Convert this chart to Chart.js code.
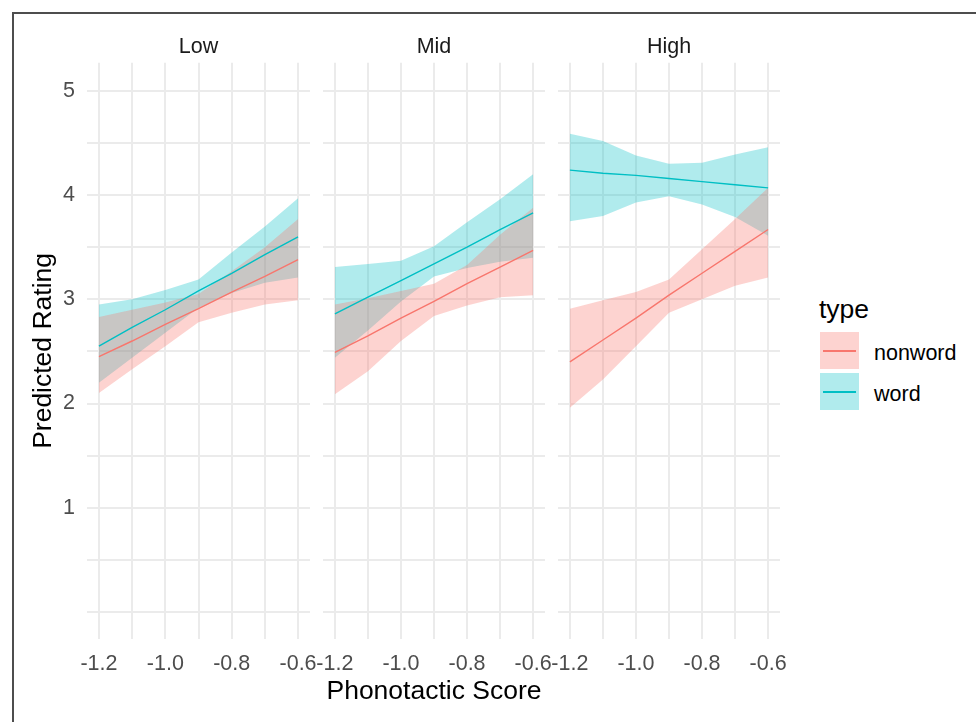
<!DOCTYPE html>
<html>
<head>
<meta charset="utf-8">
<script src="https://cdn.jsdelivr.net/npm/chart.js@4.4.1/dist/chart.umd.min.js"></script>
<style>
    html, body { margin: 0; padding: 0; background: #fff; }
    #page { position: relative; width: 976px; height: 722px; overflow: hidden; background: #fff;
            font-family: "Liberation Sans", Arial, sans-serif; }
    #frame { position: absolute; left: 12px; top: 12px; right: -10px; bottom: -10px;
             border-left: 2px solid #4d4d4d; border-top: 2px solid #4d4d4d; }
    canvas { position: absolute; top: 0; }
    .legendTitle { position: absolute; left: 819px; top: 293px; height: 32px; line-height: 32px;
                   font-size: 26.5px; color: #000; white-space: nowrap; }
    .key { position: absolute; left: 820px; width: 39px; height: 37px; }
    .key span { position: absolute; left: 3px; right: 3px; top: 18px; height: 1.5px; }
    .legendText { position: absolute; left: 874px; height: 30px; line-height: 30px;
                  font-size: 21.5px; color: #000; white-space: nowrap; }
</style>
</head>
<body>
<div id="page">
    <div id="frame"></div>
    <canvas id="lowChart" width="330" height="722" style="left:0px;width:330px;height:722px"></canvas>
    <canvas id="midChart" width="262" height="722" style="left:303px;width:262px;height:722px"></canvas>
    <canvas id="highChart" width="262" height="722" style="left:538px;width:262px;height:722px"></canvas>

    <div class="legendTitle">type</div>
    <div class="key" style="top:332px;background:rgba(248,118,109,0.32)"><span style="background:#F8766D"></span></div>
    <div class="legendText" style="top:338px">nonword</div>
    <div class="key" style="top:373px;background:rgba(0,191,196,0.31)"><span style="background:#00BFC4"></span></div>
    <div class="legendText" style="top:379px">word</div>
</div>

<script>
// x values at which the effects were evaluated
const xValues = [-1.2, -1.1, -1.0, -0.9, -0.8, -0.7, -0.6];
const xTicks = [-1.2, -1.1, -1.0, -0.9, -0.8, -0.7, -0.6];
const xTickLabels = [-1.2, -1.0, -0.8, -0.6];
const yTicks = [0, 0.5, 1, 1.5, 2, 2.5, 3, 3.5, 4, 4.5, 5];
const yTickLabels = [1, 2, 3, 4, 5];
const panelNames = ['Low', 'Mid', 'High'];
const typeNames = ['nonword', 'word'];

// Low
const lowNonwordFit = [2.45, 2.60, 2.76, 2.91, 3.07, 3.22, 3.38];
const lowNonwordLo  = [2.10, 2.33, 2.55, 2.78, 2.87, 2.95, 2.99];
const lowNonwordHi  = [2.83, 2.90, 2.97, 3.05, 3.27, 3.50, 3.77];
const lowWordFit    = [2.55, 2.73, 2.90, 3.08, 3.25, 3.43, 3.60];
const lowWordLo     = [2.20, 2.44, 2.68, 2.92, 3.06, 3.16, 3.21];
const lowWordHi     = [2.95, 3.00, 3.09, 3.19, 3.45, 3.70, 3.97];

// Mid
const midNonwordFit = [2.49, 2.65, 2.82, 2.98, 3.15, 3.31, 3.47];
const midNonwordLo  = [2.09, 2.31, 2.60, 2.84, 2.94, 3.02, 3.04];
const midNonwordHi  = [2.95, 3.01, 3.08, 3.15, 3.33, 3.62, 3.88];
const midWordFit    = [2.86, 3.02, 3.18, 3.34, 3.50, 3.67, 3.83];
const midWordLo     = [2.44, 2.70, 2.98, 3.22, 3.30, 3.36, 3.40];
const midWordHi     = [3.31, 3.34, 3.37, 3.51, 3.74, 3.96, 4.20];

// High
const highNonwordFit = [2.40, 2.61, 2.82, 3.04, 3.25, 3.46, 3.67];
const highNonwordLo  = [1.96, 2.23, 2.55, 2.87, 3.00, 3.13, 3.21];
const highNonwordHi  = [2.91, 2.99, 3.07, 3.19, 3.48, 3.77, 4.07];
const highWordFit    = [4.24, 4.21, 4.19, 4.16, 4.13, 4.10, 4.07];
const highWordLo     = [3.75, 3.80, 3.93, 3.99, 3.91, 3.79, 3.61];
const highWordHi     = [4.59, 4.52, 4.38, 4.30, 4.31, 4.39, 4.46];

const nonwordColor = '#F8766D';
const wordColor = '#00BFC4';
const nonwordFill = 'rgba(248,118,109,0.32)';
const wordFill = 'rgba(0,191,196,0.31)';
const FONT = '"Liberation Sans", Arial, sans-serif';

const toPoints = (ys) => xValues.map((x, i) => ({x: x, y: ys[i]}));

const lineSet = (label, ys, color) => ({
    label: label, data: toPoints(ys), borderColor: color, borderWidth: 1.4,
    pointRadius: 0, fill: false, tension: 0,
});
const bandSet = (label, ys, fillColor, fillTarget) => ({
    label: label, data: toPoints(ys), borderColor: 'rgba(0,0,0,0)', borderWidth: 0,
    backgroundColor: fillColor, pointRadius: 0, fill: fillTarget, tension: 0,
});

function makePanel(canvasId, title, series, opts) {
    const ctx = document.getElementById(canvasId).getContext('2d');
    return new Chart(ctx, {
        type: 'line',
        data: {
            datasets: [
                lineSet(typeNames[0], series.nwFit, nonwordColor),
                lineSet(typeNames[1], series.wFit, wordColor),
                bandSet('nonword lower', series.nwLo, nonwordFill, false),
                bandSet('nonword upper', series.nwHi, nonwordFill, '-1'),
                bandSet('word lower', series.wLo, wordFill, false),
                bandSet('word upper', series.wHi, wordFill, '-1'),
            ],
        },
        options: {
            responsive: false,
            animation: false,
            layout: { padding: { left: opts.padLeft, right: 20, top: 0, bottom: 0 } },
            plugins: {
                legend: { display: false },
                tooltip: { enabled: false },
                title: {
                    display: true,
                    fullSize: false,   // centre the strip label over the panel only
                    text: title,
                    color: '#1a1a1a',
                    font: { family: FONT, size: 21.5, weight: 'normal' },
                    padding: { top: 34, bottom: 3 },
                },
            },
            scales: {
                x: {
                    type: 'linear',
                    min: -1.236,
                    max: -0.564,
                    afterBuildTicks: (scale) => { scale.ticks = xTicks.map(v => ({value: v})); },
                    afterFit: (scale) => { scale.height = 83; },
                    grid: { color: '#ebebeb', lineWidth: 2, drawTicks: false },
                    border: { display: false },
                    ticks: {
                        autoSkip: false,
                        maxRotation: 0,
                        padding: 12,
                        color: '#4d4d4d',
                        font: { family: FONT, size: 21.5 },
                        callback: (v) => xTickLabels.some(t => Math.abs(t - v) < 1e-9) ? v.toFixed(1) : '',
                    },
                    title: {
                        display: opts.xTitle,
                        text: 'Phonotactic Score',
                        color: '#000',
                        font: { family: FONT, size: 26.5 },
                        padding: { top: 0, bottom: 14 },
                    },
                },
                y: {
                    type: 'linear',
                    min: -0.26,
                    max: 5.27,
                    afterBuildTicks: (scale) => { scale.ticks = yTicks.map(v => ({value: v})); },
                    afterFit: (scale) => { scale.width = opts.yWidth; },
                    grid: { color: '#ebebeb', lineWidth: 2, drawTicks: false },
                    border: { display: false },
                    ticks: {
                        display: opts.yLabels,
                        autoSkip: false,
                        padding: 12,
                        color: '#4d4d4d',
                        font: { family: FONT, size: 21.5 },
                        callback: (v) => yTickLabels.includes(v) ? String(v) : '',
                    },
                    title: {
                        display: opts.yLabels,
                        text: 'Predicted Rating',
                        color: '#000',
                        font: { family: FONT, size: 26.5 },
                        padding: { top: 28, bottom: 0 },
                    },
                },
            },
        },
    });
}

makePanel('lowChart', panelNames[0], {
    nwFit: lowNonwordFit, nwLo: lowNonwordLo, nwHi: lowNonwordHi,
    wFit: lowWordFit, wLo: lowWordLo, wHi: lowWordHi,
}, { padLeft: 0, yWidth: 87, yLabels: true, xTitle: false });

makePanel('midChart', panelNames[1], {
    nwFit: midNonwordFit, nwLo: midNonwordLo, nwHi: midNonwordHi,
    wFit: midWordFit, wLo: midWordLo, wHi: midWordHi,
}, { padLeft: 20, yWidth: 0, yLabels: false, xTitle: true });

makePanel('highChart', panelNames[2], {
    nwFit: highNonwordFit, nwLo: highNonwordLo, nwHi: highNonwordHi,
    wFit: highWordFit, wLo: highWordLo, wHi: highWordHi,
}, { padLeft: 20, yWidth: 0, yLabels: false, xTitle: false });
</script>
</body>
</html>
